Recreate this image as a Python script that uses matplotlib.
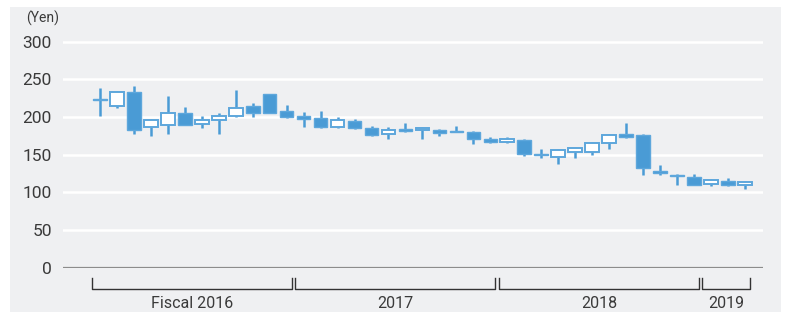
import matplotlib.pyplot as plt
from matplotlib.patches import Rectangle
import numpy as np

# monthly share price candles (yen), April 2015 - June 2019
opens = [223, 214, 233, 187, 190, 206, 191, 196, 202, 215, 230, 208,
         202, 199, 187, 195, 186, 178, 183.5, 183, 183, 180.5, 180, 171,
         167, 170, 151, 147.5, 154, 154, 166, 177, 176.5, 129, 123.5, 121,
         111, 115, 109.5]
closes = [222, 233, 183, 196, 206, 190, 196, 202, 212, 206, 206, 200,
          198, 187, 196, 185, 176, 183, 182, 186, 179, 180, 171, 167,
          171, 151, 149, 156, 158.5, 166, 176, 173, 133, 125.5, 121.5, 110,
          116, 109.5, 114]
highs = [238, 234, 241, 198, 228, 213, 201, 205, 236, 219, 230.5, 216,
         207, 208, 200, 197, 188, 187, 192, 186.5, 184.5, 188.5, 182, 173.5,
         173.5, 171, 158, 157, 159, 166.5, 177.5, 192, 177.5, 136, 124, 124.5,
         117.5, 119, 114.5]
lows = [202, 212, 177, 175, 178, 190, 186, 177, 200, 200, 206, 199,
        187, 186, 186, 184, 175, 171, 180, 171, 175, 179.5, 164, 165,
        165, 148, 145, 138, 146, 150, 158, 172, 123.5, 123.5, 110, 110,
        109, 109, 105]
years = ["Fiscal 2016", "2017", "2018", "2019"]
year_counts = [12, 12, 12, 3]
yticks = [0, 50, 100, 150, 200, 250, 300]

blue = "#4a9bd5"
edge = "#5ea7dc"
grey_bg = "#eff0f2"

fig = plt.figure(figsize=(7.87, 3.12), dpi=100)
fig.patch.set_facecolor("white")
bg = Rectangle((10 / 787, 0), 771 / 787, 305 / 312, transform=fig.transFigure,
               facecolor=grey_bg, edgecolor="none", zorder=-5)
fig.add_artist(bg)

ax = fig.add_axes([63 / 787, 44.3 / 312, 700 / 787, 227.5 / 312])
ax.set_zorder(2)
ax.patch.set_alpha(0)

n = len(opens)
x = np.arange(n)
w = 0.8
for i in range(n):
    o, c, h, l = opens[i], closes[i], highs[i], lows[i]
    ax.plot([x[i], x[i]], [l, h], color=blue, lw=1.8, solid_capstyle="butt", zorder=3)
    bot = min(o, c)
    ht = max(abs(c - o), 1.5)
    if c >= o:
        r = Rectangle((x[i] - w / 2, bot), w, ht, facecolor="white",
                      edgecolor=edge, lw=1.4, zorder=4)
    else:
        r = Rectangle((x[i] - w / 2, bot), w, ht, facecolor=blue,
                      edgecolor=edge, lw=1.0, zorder=4)
    ax.add_patch(r)

for v in yticks[1:]:
    ax.axhline(v, color="white", lw=1.8, zorder=1)
ax.axhline(0, color="#8c8c8c", lw=1.6, zorder=2)

ax.set_xlim(-2.18, 39.07)
ax.set_ylim(0, 302)
ax.set_yticks(yticks)
ax.set_xticks([])
ax.tick_params(axis="y", length=0, pad=8, labelsize=12.5, labelcolor="#3a3a3a")
for s in ax.spines.values():
    s.set_visible(False)
for lab in ax.get_yticklabels():
    lab.set_fontfamily("Roboto")

ax.text(-0.052, 1.095, "(Yen)", transform=ax.transAxes, ha="left", va="center",
        fontsize=10, color="#3a3a3a", family="Roboto")

# fiscal year brackets under the axis
tr = ax.get_xaxis_transform()
start = 0
for name, cnt in zip(years, year_counts):
    x0 = start - 0.5
    x1 = start + cnt - 1 + 0.3
    ax.plot([x0, x0, x1, x1], [-0.045, -0.094, -0.094, -0.045], color="#333333",
            lw=1.0, transform=tr, clip_on=False)
    ax.text((x0 + x1) / 2, -0.177, name, transform=tr, ha="center", va="baseline",
            fontsize=11.5, color="#3a3a3a", family="Roboto")
    start += cnt

fig.savefig("out.png", dpi=100, facecolor=fig.get_facecolor())
